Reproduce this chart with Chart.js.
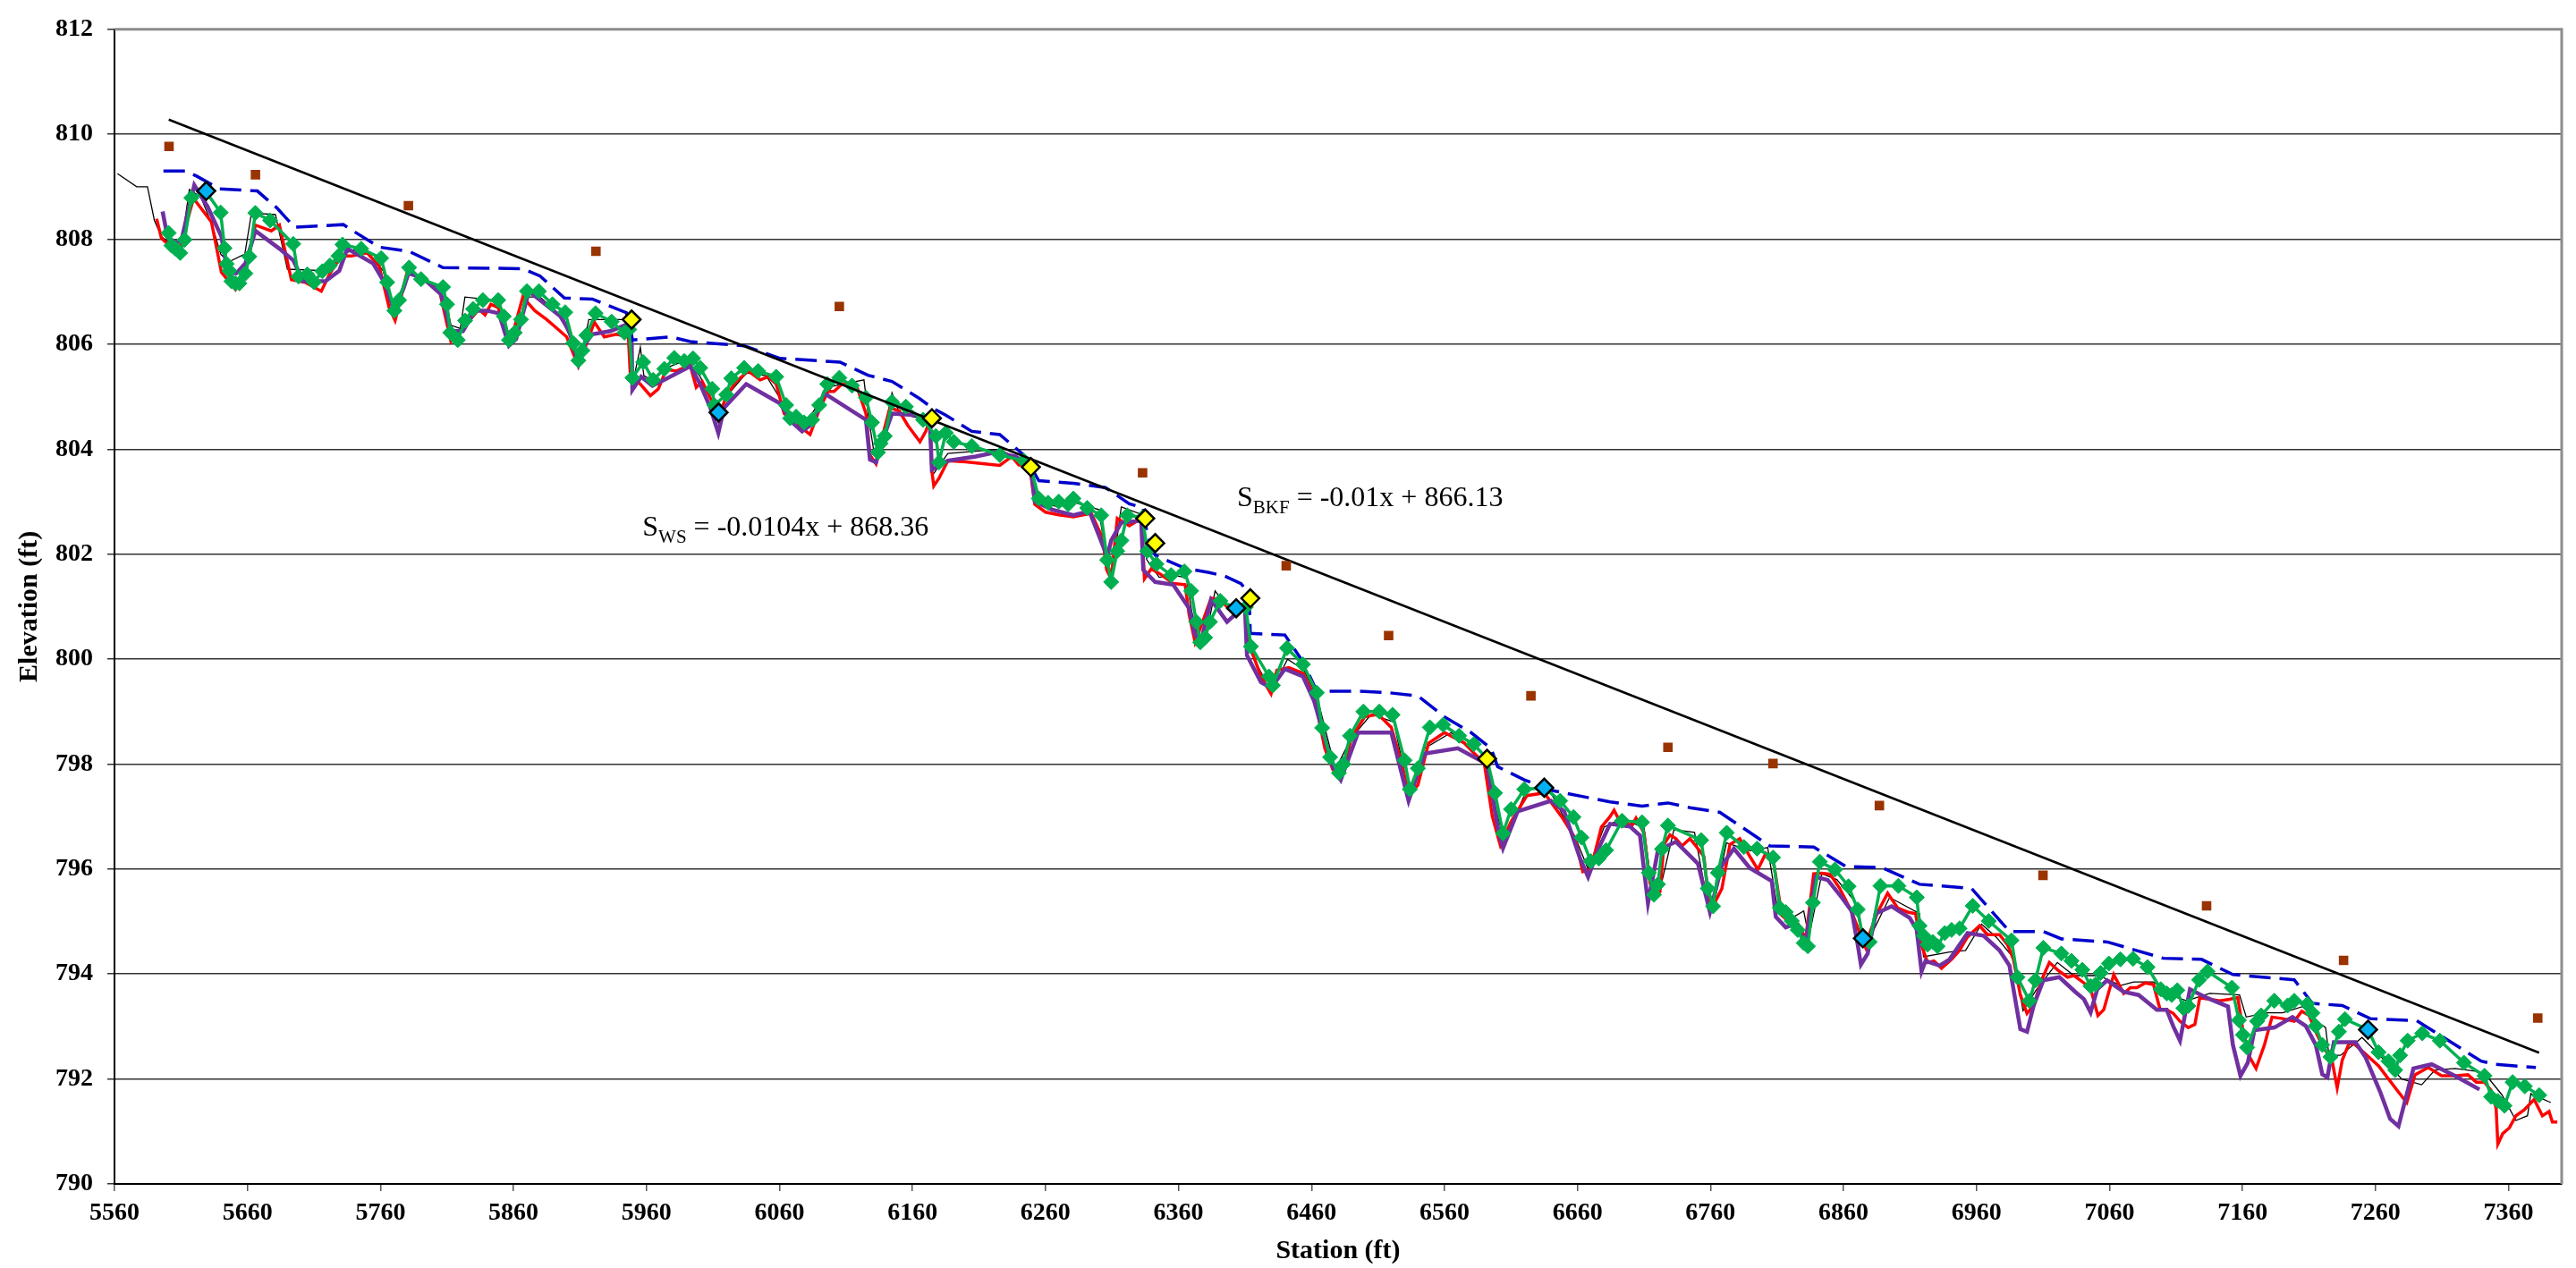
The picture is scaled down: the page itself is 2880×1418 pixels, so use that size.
<!DOCTYPE html>
<html>
<head>
<meta charset="utf-8">
<script src="https://cdn.jsdelivr.net/npm/chart.js@4.4.1/dist/chart.umd.min.js"></script>
<style>
  html, body { margin: 0; padding: 0; background: #fff; }
  #wrap { width: 2880px; height: 1418px; position: relative; }
</style>
</head>
<body>
<div id="wrap"><canvas id="profile"></canvas></div>
<script>
// Axis ticks
const stationTicks = [5560, 5660, 5760, 5860, 5960, 6060, 6160, 6260, 6360, 6460,
  6560, 6660, 6760, 6860, 6960, 7060, 7160, 7260, 7360];
const elevTicks = [790, 792, 794, 796, 798, 800, 802, 804, 806, 808, 810, 812];

// Profile series, [station, elevation]
const greenProfile = [
  [5600.7, 808.12], [5602.8, 807.88], [5605.8, 807.82], [5609.4, 807.74], [5612.7, 807.99],
  [5617.8, 808.79], [5629.0, 808.90], [5639.8, 808.51], [5642.8, 807.83], [5644.3, 807.53],
  [5646.4, 807.40], [5647.9, 807.20], [5650.9, 807.16], [5653.9, 807.16], [5658.4, 807.35],
  [5661.4, 807.67], [5665.9, 808.50], [5677.0, 808.36], [5694.4, 807.91], [5698.3, 807.29],
  [5705.0, 807.33], [5710.0, 807.18], [5716.3, 807.39], [5722.0, 807.50], [5728.4, 807.68],
  [5731.4, 807.90], [5745.5, 807.82], [5760.5, 807.64], [5765.0, 807.18], [5770.4, 806.64],
  [5774.0, 806.84], [5781.5, 807.46], [5790.5, 807.24], [5807.0, 807.09], [5810.0, 806.76],
  [5812.4, 806.22], [5818.1, 806.08], [5823.6, 806.45], [5829.6, 806.67], [5837.0, 806.84],
  [5848.5, 806.84], [5852.7, 806.53], [5856.6, 806.08], [5861.0, 806.22], [5865.6, 806.47],
  [5870.1, 807.01], [5879.1, 807.01], [5889.3, 806.76], [5898.9, 806.61], [5904.9, 806.02],
  [5908.8, 805.69], [5911.8, 805.88], [5914.8, 806.17], [5921.7, 806.59], [5933.8, 806.43],
  [5943.4, 806.22], [5947.0, 806.28], [5949.4, 805.36], [5957.5, 805.66], [5965.0, 805.32],
  [5973.4, 805.53], [5980.9, 805.74], [5988.4, 805.68], [5995.0, 805.73], [6000.4, 805.55],
  [6009.4, 805.15], [6011.0, 804.84], [6020.0, 805.04], [6023.8, 805.35], [6033.4, 805.55],
  [6044.0, 805.49], [6057.5, 805.38], [6065.0, 804.84], [6068.0, 804.59], [6072.5, 804.62],
  [6078.5, 804.51], [6084.5, 804.56], [6089.9, 804.84], [6095.9, 805.24], [6105.0, 805.36],
  [6114.5, 805.21], [6125.0, 804.98], [6129.5, 804.51], [6134.0, 803.94], [6136.0, 804.11],
  [6139.2, 804.25], [6144.6, 804.90], [6155.0, 804.81], [6168.0, 804.56], [6177.6, 804.25],
  [6180.0, 803.75], [6185.0, 804.31], [6191.0, 804.14], [6204.6, 804.06], [6225.6, 803.89],
  [6243.7, 803.78], [6249.0, 803.66], [6255.0, 803.06], [6262.0, 802.98], [6270.0, 803.00],
  [6277.0, 802.95], [6281.0, 803.06], [6291.4, 802.88], [6301.9, 802.74], [6306.4, 801.89],
  [6309.4, 801.47], [6313.9, 802.06], [6317.0, 802.26], [6321.4, 802.74], [6333.0, 802.70],
  [6336.5, 802.06], [6343.4, 801.81], [6354.5, 801.60], [6364.4, 801.67], [6369.5, 801.30],
  [6373.4, 800.71], [6376.4, 800.32], [6380.0, 800.41], [6383.6, 800.71], [6391.4, 801.11],
  [6403.4, 800.97], [6410.6, 800.99], [6414.5, 800.24], [6428.0, 799.67], [6431.0, 799.50],
  [6441.6, 800.21], [6453.6, 799.90], [6464.0, 799.36], [6468.0, 798.69], [6474.0, 798.13],
  [6480.6, 797.83], [6484.0, 798.00], [6489.0, 798.54], [6499.0, 799.00], [6511.0, 799.00],
  [6521.0, 798.94], [6530.0, 798.07], [6534.0, 797.52], [6540.0, 797.92], [6549.0, 798.70],
  [6559.0, 798.75], [6571.0, 798.54], [6582.0, 798.38], [6592.0, 798.10], [6598.0, 797.45],
  [6604.0, 796.68], [6610.0, 797.14], [6620.0, 797.52], [6635.0, 797.55], [6647.0, 797.30],
  [6657.0, 796.99], [6663.0, 796.60], [6670.0, 796.15], [6676.0, 796.20], [6681.5, 796.36],
  [6693.5, 796.92], [6708.5, 796.89], [6713.6, 795.93], [6717.5, 795.51], [6720.5, 795.71],
  [6723.5, 796.38], [6728.0, 796.83], [6753.0, 796.55], [6758.0, 795.63], [6762.0, 795.29],
  [6765.6, 795.93], [6772.2, 796.69], [6785.1, 796.42], [6795.0, 796.39], [6807.0, 796.22],
  [6812.1, 795.26], [6816.6, 795.18], [6821.1, 795.01], [6825.6, 794.84], [6830.1, 794.59],
  [6833.2, 794.53], [6837.0, 795.36], [6842.2, 796.14], [6853.6, 795.99], [6863.8, 795.67],
  [6870.7, 795.23], [6874.6, 794.68], [6879.7, 794.61], [6887.8, 795.68], [6901.3, 795.68],
  [6915.1, 795.46], [6917.2, 794.92], [6920.2, 794.73], [6923.2, 794.56], [6927.1, 794.61],
  [6930.7, 794.53], [6936.2, 794.78], [6941.3, 794.84], [6947.3, 794.87], [6957.2, 795.30],
  [6969.2, 795.01], [6986.3, 794.64], [6990.8, 793.94], [6999.8, 793.49], [7004.3, 793.88],
  [7010.3, 794.50], [7023.8, 794.39], [7031.4, 794.25], [7039.6, 794.08], [7045.8, 793.77],
  [7049.5, 793.80], [7053.3, 794.02], [7059.5, 794.20], [7068.2, 794.28], [7077.7, 794.29],
  [7088.6, 794.13], [7098.6, 793.71], [7103.0, 793.63], [7106.8, 793.60], [7111.0, 793.69],
  [7115.5, 793.35], [7119.2, 793.39], [7127.4, 793.89], [7133.7, 794.05], [7152.1, 793.74],
  [7157.3, 793.12], [7160.3, 792.84], [7163.5, 792.60], [7171.0, 793.10], [7174.0, 793.21],
  [7183.9, 793.49], [7193.9, 793.40], [7198.9, 793.49], [7208.8, 793.43], [7212.6, 793.26],
  [7215.0, 793.01], [7220.0, 792.65], [7226.2, 792.42], [7232.5, 792.90], [7237.0, 793.14],
  [7254.4, 792.94], [7262.3, 792.51], [7269.8, 792.34], [7274.8, 792.17], [7278.5, 792.45],
  [7284.2, 792.73], [7295.2, 792.87], [7308.4, 792.73], [7326.5, 792.31], [7342.0, 792.06],
  [7347.0, 791.66], [7352.0, 791.58], [7357.0, 791.49], [7363.1, 791.94], [7372.3, 791.86],
  [7383.1, 791.69]
];

const redProfile = [
  [5591.7, 808.39], [5595.3, 808.02], [5601.3, 807.88], [5609.0, 807.82], [5619.4, 808.78],
  [5632.9, 808.33], [5640.4, 807.37], [5651.0, 807.04], [5658.0, 807.30], [5665.9, 808.27],
  [5677.9, 808.16], [5684.0, 808.27], [5693.0, 807.23], [5703.4, 807.18], [5715.5, 807.01],
  [5722.0, 807.35], [5730.5, 807.68], [5738.0, 807.68], [5750.0, 807.74], [5759.0, 807.49],
  [5766.5, 806.70], [5771.0, 806.45], [5780.0, 807.37], [5789.0, 807.29], [5804.0, 807.06],
  [5813.0, 806.05], [5822.0, 806.30], [5834.0, 806.67], [5838.6, 806.56], [5843.0, 806.76],
  [5848.5, 806.70], [5853.6, 806.22], [5860.0, 806.25], [5867.0, 806.90], [5876.0, 806.64],
  [5885.0, 806.47], [5892.3, 806.31], [5900.0, 806.14], [5908.8, 805.58], [5914.0, 805.95],
  [5920.8, 806.42], [5928.3, 806.14], [5937.4, 806.19], [5946.4, 806.14], [5947.9, 805.38],
  [5955.4, 805.24], [5962.9, 805.02], [5968.9, 805.15], [5974.9, 805.52], [5982.4, 805.49],
  [5992.9, 805.60], [5997.4, 805.18], [6001.9, 805.29], [6009.4, 804.90], [6014.0, 804.59],
  [6020.0, 805.01], [6027.5, 805.29], [6036.5, 805.49], [6045.5, 805.32], [6051.5, 805.38],
  [6057.5, 805.24], [6063.5, 804.68], [6072.5, 804.51], [6078.5, 804.37], [6083.0, 804.28],
  [6090.5, 804.79], [6096.5, 805.10], [6101.0, 805.10], [6107.0, 805.24], [6117.5, 805.24],
  [6125.0, 804.68], [6128.0, 803.89], [6132.6, 803.72], [6138.0, 804.30], [6143.0, 804.79],
  [6150.0, 804.73], [6156.6, 804.45], [6165.6, 804.14], [6170.0, 804.34], [6173.0, 804.56],
  [6174.6, 803.58], [6176.0, 803.30], [6180.0, 803.45], [6186.6, 803.78], [6200.0, 803.76],
  [6225.6, 803.69], [6234.6, 803.86], [6240.0, 803.70], [6248.0, 803.70], [6252.0, 802.95],
  [6260.0, 802.80], [6270.0, 802.75], [6281.0, 802.71], [6294.4, 802.78], [6303.0, 802.30],
  [6306.0, 801.70], [6309.4, 801.53], [6314.0, 802.68], [6323.0, 802.54], [6332.0, 802.68],
  [6334.4, 801.53], [6339.5, 801.72], [6347.0, 801.61], [6356.0, 801.44], [6365.0, 801.42],
  [6368.0, 800.85], [6372.5, 800.32], [6378.0, 800.70], [6384.5, 801.16], [6392.0, 801.13],
  [6398.0, 800.95], [6404.0, 800.88], [6410.0, 800.95], [6413.0, 800.29], [6422.0, 799.67],
  [6429.6, 799.34], [6434.0, 799.79], [6443.0, 799.84], [6453.6, 799.73], [6462.0, 799.30],
  [6470.0, 798.30], [6476.0, 797.90], [6482.0, 797.70], [6490.0, 798.50], [6500.0, 798.90],
  [6510.0, 798.95], [6520.0, 798.70], [6528.0, 798.00], [6533.0, 797.40], [6540.0, 797.60],
  [6548.0, 798.40], [6560.0, 798.60], [6575.0, 798.40], [6590.0, 798.00], [6596.0, 797.00],
  [6602.0, 796.45], [6610.0, 796.90], [6622.0, 797.40], [6635.0, 797.45], [6648.0, 797.00],
  [6658.0, 796.60], [6664.0, 795.95], [6670.0, 796.00], [6678.0, 796.80], [6684.5, 797.00],
  [6687.5, 797.12], [6692.0, 796.90], [6701.0, 796.83], [6704.0, 796.97], [6710.0, 796.69],
  [6714.5, 795.74], [6717.5, 795.51], [6722.0, 795.57], [6725.0, 796.47], [6729.5, 796.65],
  [6734.0, 796.58], [6738.6, 796.44], [6744.6, 796.58], [6749.0, 796.44], [6755.0, 796.24],
  [6759.6, 795.20], [6764.0, 795.40], [6768.6, 795.63], [6774.6, 796.47], [6782.0, 796.58],
  [6789.6, 796.24], [6795.6, 795.99], [6801.6, 796.30], [6807.0, 796.20], [6813.6, 795.12],
  [6821.0, 794.95], [6826.0, 794.95], [6831.6, 794.67], [6837.6, 795.91], [6843.7, 795.92],
  [6850.0, 795.90], [6857.2, 795.63], [6866.2, 795.18], [6872.2, 794.78], [6876.7, 794.50],
  [6880.0, 794.80], [6885.7, 795.18], [6893.2, 795.54], [6900.7, 795.26], [6908.2, 795.18],
  [6914.2, 795.15], [6918.0, 794.60], [6923.2, 794.22], [6928.0, 794.25], [6933.7, 794.11],
  [6941.3, 794.28], [6947.3, 794.45], [6953.0, 794.70], [6962.3, 794.92], [6968.3, 794.75],
  [6977.3, 794.75], [6983.3, 794.56], [6987.8, 794.28], [6993.0, 793.60], [6998.0, 793.25],
  [7003.0, 793.40], [7008.8, 793.88], [7014.8, 794.22], [7020.9, 794.08], [7028.4, 793.94],
  [7033.3, 793.97], [7040.8, 793.83], [7046.0, 793.70], [7051.3, 793.21], [7055.7, 793.32],
  [7063.2, 793.99], [7070.7, 793.63], [7075.7, 793.74], [7080.6, 793.74], [7086.9, 793.83],
  [7093.1, 793.80], [7098.1, 793.32], [7103.0, 793.32], [7108.0, 793.25], [7113.0, 793.10],
  [7119.2, 792.98], [7124.2, 793.04], [7127.9, 793.55], [7135.4, 793.52], [7142.9, 793.49],
  [7150.3, 793.52], [7156.5, 793.55], [7160.3, 792.93], [7165.3, 792.42], [7170.2, 792.20],
  [7176.5, 792.65], [7182.2, 793.18], [7190.2, 793.15], [7198.9, 793.10], [7204.6, 793.29],
  [7210.1, 793.21], [7216.0, 792.85], [7222.0, 792.55], [7227.0, 792.40], [7231.2, 791.83],
  [7235.0, 792.36], [7240.0, 792.67], [7243.7, 792.67], [7252.4, 792.48], [7262.3, 792.25],
  [7269.8, 792.00], [7277.3, 791.75], [7283.5, 791.55], [7289.7, 792.08], [7299.7, 792.22],
  [7309.6, 792.06], [7320.8, 792.06], [7329.5, 792.08], [7335.8, 791.94], [7342.0, 791.94],
  [7347.0, 791.78], [7350.7, 791.44], [7352.0, 790.76], [7355.7, 790.96], [7360.7, 791.07],
  [7365.6, 791.30], [7371.8, 791.41], [7379.3, 791.61], [7385.5, 791.30], [7390.5, 791.38],
  [7393.0, 791.18], [7396.7, 791.18]
];

const purpleProfile = [
  [5596.2, 808.53], [5599.8, 808.05], [5605.0, 807.95], [5610.0, 807.95], [5620.0, 809.03],
  [5630.0, 808.62], [5640.4, 808.05], [5645.0, 807.37], [5651.5, 807.35], [5658.4, 807.54],
  [5666.0, 808.16], [5684.0, 807.82], [5694.4, 807.60], [5702.0, 807.20], [5718.5, 807.20],
  [5729.0, 807.40], [5735.0, 807.82], [5754.5, 807.54], [5763.5, 807.15], [5769.5, 806.70],
  [5777.0, 807.04], [5781.0, 807.35], [5792.0, 807.26], [5805.5, 806.95], [5813.0, 806.25],
  [5822.0, 806.25], [5831.0, 806.64], [5840.0, 806.64], [5849.0, 806.59], [5856.6, 805.97],
  [5862.0, 806.10], [5871.6, 807.01], [5882.0, 806.80], [5895.3, 806.53], [5902.0, 806.25],
  [5908.8, 805.63], [5913.6, 806.00], [5919.3, 806.19], [5932.9, 806.25], [5946.4, 806.39],
  [5948.8, 806.14], [5949.4, 805.13], [5956.0, 805.38], [5964.4, 805.21], [5973.4, 805.32],
  [5993.0, 805.58], [6000.4, 805.24], [6008.0, 804.79], [6014.0, 804.31], [6018.4, 804.79],
  [6035.0, 805.24], [6060.5, 804.87], [6069.5, 804.51], [6077.0, 804.34], [6084.5, 804.48],
  [6093.5, 805.07], [6125.0, 804.56], [6128.0, 803.80], [6132.6, 803.75], [6138.0, 804.20],
  [6144.6, 804.68], [6162.6, 804.65], [6173.0, 804.53], [6174.6, 803.61], [6186.6, 803.78],
  [6207.6, 803.86], [6222.6, 803.94], [6237.7, 803.86], [6249.0, 803.66], [6252.0, 803.00],
  [6265.0, 802.85], [6281.0, 802.74], [6293.0, 802.82], [6306.4, 801.95], [6309.4, 802.26],
  [6317.0, 802.60], [6332.0, 802.64], [6333.5, 801.70], [6342.5, 801.47], [6356.0, 801.42],
  [6368.0, 800.97], [6372.5, 800.46], [6377.0, 800.35], [6384.5, 801.13], [6396.5, 800.71],
  [6404.0, 800.88], [6410.0, 800.97], [6411.5, 800.07], [6422.0, 799.56], [6429.6, 799.45],
  [6440.0, 799.81], [6453.6, 799.67], [6462.0, 799.20], [6476.0, 797.95], [6482.0, 797.70],
  [6495.0, 798.60], [6520.0, 798.60], [6533.0, 797.30], [6545.0, 798.20], [6570.0, 798.30],
  [6592.0, 798.00], [6600.0, 796.80], [6604.0, 796.40], [6615.0, 797.10], [6640.0, 797.30],
  [6650.0, 797.10], [6662.0, 796.20], [6668.0, 795.85], [6676.0, 796.40], [6684.5, 796.86],
  [6699.5, 796.81], [6707.0, 796.64], [6713.0, 795.35], [6720.5, 796.36], [6734.0, 796.52],
  [6750.6, 796.10], [6759.6, 795.18], [6768.6, 796.07], [6777.6, 796.39], [6789.6, 796.02],
  [6806.1, 795.77], [6809.1, 795.09], [6816.6, 794.89], [6823.0, 794.95], [6831.6, 794.61],
  [6839.2, 795.85], [6848.2, 795.79], [6858.7, 795.46], [6866.2, 795.20], [6870.7, 794.56],
  [6873.1, 794.18], [6878.2, 794.39], [6884.2, 795.15], [6896.2, 795.29], [6909.7, 795.07],
  [6915.0, 794.85], [6918.7, 794.05], [6921.7, 794.25], [6932.3, 794.16], [6939.8, 794.28],
  [6953.3, 794.78], [6965.3, 794.73], [6977.3, 794.45], [6984.8, 794.16], [6989.3, 793.49],
  [6993.0, 792.95], [6998.0, 792.90], [7003.0, 793.40], [7010.3, 793.88], [7022.3, 793.94],
  [7034.3, 793.66], [7040.8, 793.52], [7045.8, 793.27], [7050.8, 793.71], [7058.2, 793.88],
  [7070.7, 793.66], [7081.9, 793.60], [7095.6, 793.32], [7103.0, 793.32], [7108.0, 793.00],
  [7113.0, 792.73], [7120.5, 793.71], [7132.9, 793.55], [7149.1, 793.38], [7152.8, 792.65],
  [7158.5, 792.06], [7164.0, 792.31], [7169.0, 792.93], [7184.0, 792.98], [7197.6, 793.18],
  [7207.6, 793.01], [7215.1, 792.65], [7220.0, 792.09], [7223.8, 792.03], [7228.7, 792.70],
  [7244.9, 792.70], [7252.4, 792.42], [7263.6, 791.75], [7271.0, 791.24], [7277.3, 791.10],
  [7288.5, 792.20], [7302.2, 792.28], [7319.6, 792.06], [7338.2, 791.80]
];

const blackProfile = [
  [5562.3, 809.25], [5576.7, 809.00], [5584.8, 809.00], [5590.0, 808.36], [5595.3, 808.05],
  [5603.0, 807.90], [5610.0, 807.85], [5616.3, 808.95], [5625.0, 808.80], [5633.0, 808.30],
  [5640.0, 807.71], [5646.0, 807.57], [5658.0, 807.72], [5663.0, 808.50], [5681.0, 808.47],
  [5690.0, 807.43], [5720.0, 807.40], [5730.0, 807.70], [5740.0, 807.80], [5752.0, 807.72],
  [5762.0, 807.40], [5769.0, 806.70], [5776.0, 806.90], [5782.0, 807.40], [5800.0, 807.15],
  [5808.0, 807.00], [5813.0, 806.36], [5820.0, 806.30], [5823.5, 806.90], [5834.0, 806.87],
  [5848.0, 806.80], [5854.0, 806.20], [5860.0, 806.15], [5867.0, 806.90], [5880.0, 806.90],
  [5895.0, 806.55], [5905.0, 806.00], [5910.0, 805.65], [5916.6, 806.47], [5943.4, 806.47],
  [5949.0, 806.40], [5950.0, 805.30], [5955.4, 805.94], [5958.0, 805.40], [5965.0, 805.30],
  [5975.0, 805.55], [5990.0, 805.70], [6000.0, 805.40], [6008.0, 805.00], [6014.0, 804.50],
  [6020.0, 805.00], [6035.0, 805.45], [6050.0, 805.40], [6062.0, 804.90], [6070.0, 804.55],
  [6080.0, 804.50], [6090.0, 804.90], [6100.0, 805.20], [6123.5, 805.32], [6127.0, 804.60],
  [6131.0, 803.95], [6138.0, 804.20], [6144.6, 805.07], [6150.0, 804.70], [6160.0, 804.62],
  [6173.0, 804.55], [6175.0, 803.50], [6186.6, 803.92], [6225.6, 804.00], [6240.0, 803.80],
  [6250.0, 803.70], [6253.0, 803.00], [6270.0, 802.90], [6281.0, 802.99], [6300.0, 802.85],
  [6306.0, 801.90], [6310.0, 801.60], [6317.0, 802.90], [6333.0, 802.75], [6336.0, 801.90],
  [6345.5, 801.56], [6356.0, 801.60], [6366.0, 801.55], [6370.0, 800.90], [6375.0, 800.40],
  [6382.0, 800.60], [6387.5, 801.30], [6395.0, 801.05], [6410.0, 801.00], [6413.0, 800.20],
  [6425.0, 799.60], [6432.0, 799.50], [6442.0, 800.00], [6454.0, 799.80], [6464.0, 799.30],
  [6478.0, 797.90], [6490.0, 798.50], [6505.0, 798.95], [6522.0, 798.80], [6533.0, 797.45],
  [6545.0, 798.30], [6565.0, 798.60], [6590.0, 798.05], [6600.0, 797.00], [6605.0, 796.55],
  [6620.0, 797.40], [6640.0, 797.45], [6660.0, 796.50], [6668.0, 796.00], [6680.0, 796.80],
  [6692.0, 796.95], [6710.0, 796.80], [6715.0, 795.80], [6722.0, 795.60], [6732.5, 796.75],
  [6748.0, 796.70], [6756.0, 795.60], [6762.0, 795.25], [6772.0, 796.50], [6790.0, 796.35],
  [6803.0, 796.41], [6810.0, 795.30], [6820.0, 795.05], [6830.1, 795.20], [6834.0, 794.70],
  [6843.7, 795.91], [6855.0, 795.80], [6868.0, 795.40], [6874.0, 794.75], [6880.0, 794.70],
  [6894.7, 795.46], [6917.2, 795.15], [6920.2, 794.33], [6939.8, 794.42], [6951.8, 794.45],
  [6963.8, 794.95], [6975.0, 794.70], [6988.0, 794.30], [6995.0, 793.30], [7005.0, 793.70],
  [7020.8, 794.22], [7033.3, 793.97], [7052.0, 793.97], [7068.2, 793.78], [7078.2, 793.85],
  [7093.1, 793.85], [7105.0, 793.60], [7118.0, 793.49], [7135.4, 793.63], [7157.8, 793.60],
  [7162.8, 793.18], [7177.7, 793.26], [7190.2, 793.26], [7205.1, 793.38], [7217.5, 793.07],
  [7222.5, 792.98], [7225.0, 792.45], [7233.7, 792.45], [7249.9, 792.79], [7265.0, 792.40],
  [7279.8, 792.00], [7294.7, 791.89], [7304.7, 792.17], [7320.0, 792.20], [7335.0, 792.15],
  [7344.5, 792.03], [7355.0, 791.70], [7365.6, 791.21], [7374.3, 791.30], [7376.8, 791.72],
  [7391.8, 791.55]
];

const blueDashed = [
  [5596.8, 809.30], [5613.3, 809.30], [5622.0, 809.20], [5639.0, 808.96], [5667.4, 808.92],
  [5682.0, 808.60], [5695.3, 808.23], [5732.0, 808.28], [5740.0, 808.15], [5759.0, 807.85],
  [5781.5, 807.77], [5807.0, 807.46], [5867.0, 807.44], [5880.0, 807.30], [5898.3, 806.88],
  [5919.3, 806.86], [5944.9, 806.60], [5949.4, 806.08], [5978.0, 806.14], [5993.0, 806.05],
  [6033.5, 805.97], [6060.5, 805.73], [6105.5, 805.66], [6126.5, 805.41], [6144.6, 805.29],
  [6165.6, 804.96], [6174.6, 804.79], [6185.0, 804.65], [6204.6, 804.34], [6225.6, 804.28],
  [6243.7, 803.89], [6255.0, 803.40], [6281.0, 803.35], [6305.0, 803.27], [6323.0, 802.96],
  [6333.5, 802.88], [6336.5, 802.37], [6342.5, 801.98], [6365.0, 801.73], [6383.0, 801.65],
  [6395.0, 801.58], [6407.0, 801.44], [6413.0, 801.25], [6414.0, 800.49], [6440.0, 800.46],
  [6453.6, 799.95], [6464.0, 799.39], [6494.0, 799.39], [6518.0, 799.36], [6540.0, 799.30],
  [6560.0, 798.90], [6580.0, 798.60], [6595.0, 798.30], [6600.0, 797.95], [6620.0, 797.70],
  [6640.0, 797.50], [6684.5, 797.28], [6708.5, 797.20], [6728.0, 797.26], [6744.6, 797.17],
  [6767.1, 797.08], [6804.6, 796.44], [6837.6, 796.42], [6861.7, 796.05], [6888.7, 796.03],
  [6917.2, 795.71], [6956.3, 795.63], [6984.8, 794.81], [7010.3, 794.81], [7023.8, 794.67],
  [7058.4, 794.61], [7100.5, 794.30], [7129.2, 794.28], [7152.8, 793.99], [7175.2, 793.94],
  [7198.9, 793.89], [7212.6, 793.44], [7235.0, 793.40], [7256.1, 793.15], [7291.0, 793.11],
  [7339.5, 792.34], [7349.4, 792.28], [7380.6, 792.22]
];

// Bankfull points
const bankfullPts = [
  [5601, 809.77], [5666, 809.23], [5781, 808.64], [5922, 807.77], [6105, 806.72],
  [6333, 803.55], [6441, 801.78], [6518, 800.45], [6625, 799.30], [6728, 798.32],
  [6807, 798.01], [6887, 797.21], [7010, 795.88], [7133, 795.30], [7236, 794.26],
  [7382, 793.16]
];

const yellowPts = [
  [5948.8, 806.47], [6174.6, 804.59], [6249.0, 803.66], [6335.0, 802.68],
  [6342.5, 802.21], [6414.0, 801.16], [6592.0, 798.10]
];

const cyanPts = [
  [5629.0, 808.92], [6014.2, 804.70], [6403.4, 800.97], [6635.0, 797.55],
  [6874.6, 794.68], [7254.4, 792.94]
];

// Bankfull trend line ends
const bkfTrend = [[5600.8, 810.28], [7383.0, 792.50]];

const serif = '"Liberation Serif", "Times New Roman", serif';

function toXY(pairs) {
  return pairs.map(p => ({ x: p[0], y: p[1] }));
}

function lineSet(pairs, color, width, order, extra = {}) {
  return {
    data: toXY(pairs),
    showLine: true,
    borderColor: color,
    borderWidth: width,
    pointRadius: 0,
    pointHoverRadius: 0,
    tension: 0,
    order: order,
    ...extra
  };
}

// gray plot frame on top and right (Excel look)
const framePlugin = {
  id: 'frame',
  beforeDatasetsDraw(chart) {
    const { ctx, chartArea: a } = chart;
    ctx.save();
    ctx.strokeStyle = '#8c8c8c';
    ctx.lineWidth = 3;
    ctx.beginPath();
    ctx.moveTo(a.left, a.top);
    ctx.lineTo(a.right, a.top);
    ctx.lineTo(a.right, a.bottom);
    ctx.stroke();
    ctx.restore();
  }
};

function drawSlope(ctx, x, y, sub, rest) {
  ctx.font = '32px ' + serif;
  ctx.fillText('S', x, y);
  let w = ctx.measureText('S').width;
  ctx.font = '21px ' + serif;
  ctx.fillText(sub, x + w, y + 8);
  w += ctx.measureText(sub).width;
  ctx.font = '32px ' + serif;
  ctx.fillText(rest, x + w, y);
}

const equationPlugin = {
  id: 'equations',
  afterDatasetsDraw(chart) {
    const { ctx, scales: { x, y } } = chart;
    ctx.save();
    ctx.fillStyle = '#000';
    ctx.textBaseline = 'alphabetic';
    ctx.textAlign = 'left';
    drawSlope(ctx, x.getPixelForValue(5957), y.getPixelForValue(802.36), 'WS', ' = -0.0104x + 868.36');
    drawSlope(ctx, x.getPixelForValue(6404), y.getPixelForValue(802.91), 'BKF', ' = -0.01x + 866.13');
    ctx.restore();
  }
};

new Chart(document.getElementById('profile'), {
  type: 'scatter',
  data: {
    datasets: [
      {
        data: toXY(yellowPts), showLine: false, pointStyle: 'rectRot', pointRadius: 10,
        pointBackgroundColor: '#ffff00', pointBorderColor: '#000', pointBorderWidth: 2.5, order: 0
      },
      {
        data: toXY(cyanPts), showLine: false, pointStyle: 'rectRot', pointRadius: 10,
        pointBackgroundColor: '#00b0f0', pointBorderColor: '#000', pointBorderWidth: 2.5, order: 1
      },
      {
        data: toXY(bankfullPts), showLine: false, pointStyle: 'rect', pointRadius: 7.5,
        pointBackgroundColor: '#993300', pointBorderColor: '#993300', pointBorderWidth: 0, order: 2
      },
      lineSet(bkfTrend, '#000', 2.5, 3),
      lineSet(greenProfile, '#00b050', 3.5, 4, {
        pointStyle: 'rectRot', pointRadius: 8.5, pointBackgroundColor: '#00b050',
        pointBorderColor: '#00b050', pointBorderWidth: 1
      }),
      lineSet(blueDashed, '#0000cc', 3.5, 5, { borderDash: [24, 10] }),
      lineSet(purpleProfile, '#7030a0', 4.5, 6),
      lineSet(redProfile, '#ff0000', 3.5, 7),
      lineSet(blackProfile, '#000', 1.3, 8)
    ]
  },
  options: {
    animation: false,
    responsive: true,
    maintainAspectRatio: false,
    devicePixelRatio: 1,
    events: [],
    layout: { padding: { top: 19, right: 16, bottom: 0, left: 0 } },
    plugins: {
      legend: { display: false },
      tooltip: { enabled: false }
    },
    scales: {
      x: {
        type: 'linear',
        position: 'bottom',
        min: 5560,
        max: 7400,
        afterBuildTicks: s => { s.ticks = stationTicks.map(v => ({ value: v })); },
        afterFit: s => { s.height = 94; },
        ticks: {
          color: '#000',
          font: { family: serif, size: 28, weight: 'bold' },
          padding: 8,
          maxRotation: 0,
          autoSkip: false,
          callback: v => String(v)
        },
        grid: { drawOnChartArea: false, drawTicks: true, tickLength: 8, color: '#555', lineWidth: 1.5 },
        border: { color: '#000', width: 2 },
        title: {
          display: true,
          text: 'Station (ft)',
          color: '#000',
          font: { family: serif, size: 30, weight: 'bold' },
          padding: { top: 0, bottom: 1 }
        }
      },
      y: {
        type: 'linear',
        min: 790,
        max: 812,
        afterBuildTicks: s => { s.ticks = elevTicks.map(v => ({ value: v })); },
        afterFit: s => { s.width = 128; },
        ticks: {
          color: '#000',
          font: { family: serif, size: 28, weight: 'bold' },
          padding: 16,
          callback: v => String(v)
        },
        grid: { color: '#333', lineWidth: 1.5, tickLength: 8 },
        border: { color: '#000', width: 2 },
        title: {
          display: true,
          text: 'Elevation (ft)',
          color: '#000',
          font: { family: serif, size: 30, weight: 'bold' },
          padding: { top: 15, bottom: 0 }
        }
      }
    }
  },
  plugins: [framePlugin, equationPlugin]
});
</script>
</body>
</html>
